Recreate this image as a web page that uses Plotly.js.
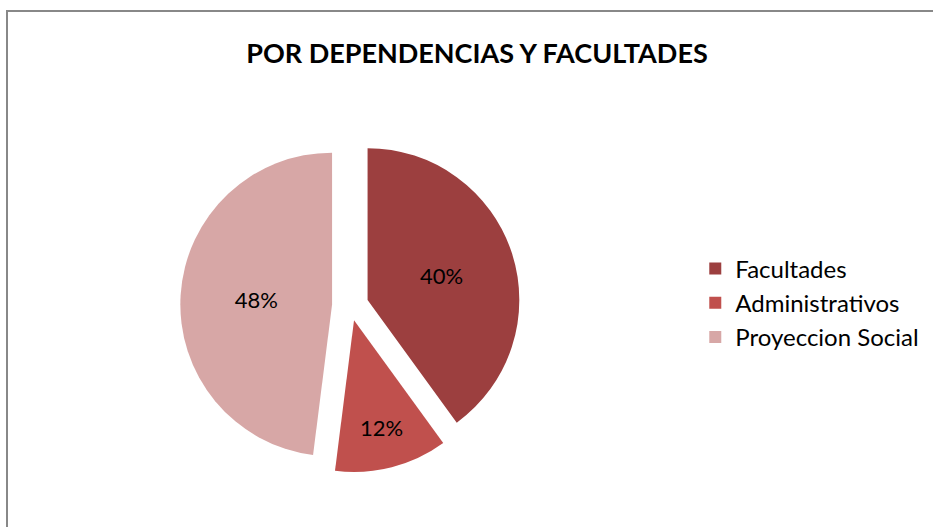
<!DOCTYPE html>
<html>
<head>
<meta charset="utf-8">
<script src="https://cdn.plot.ly/plotly-3.0.1.min.js"></script>
<style>
  html, body { margin: 0; padding: 0; background: #fff; width: 933px; height: 527px; overflow: hidden; }
  #frame { position: absolute; left: 6px; top: 10px; width: 927px; height: 517px;
           border-left: 2px solid #888; border-top: 2px solid #888; box-sizing: border-box; }
  #chart { position: absolute; left: 0; top: 0; width: 925px; height: 515px; }
</style>
</head>
<body>
<div id="frame"><div id="chart"></div></div>
<script>
const categories = ["Facultades", "Administrativos", "Proyeccion Social"];
const values = [40, 12, 48];
const colors = ["#9c3f3f", "#c0504d", "#d7a7a6"];
const chartTitle = "POR DEPENDENCIAS Y FACULTADES";

const trace = {
  type: "pie",
  labels: categories,
  values: values,
  sort: false,
  direction: "clockwise",
  rotation: 0,
  pull: [0.12, 0.1, 0.12],
  marker: { colors: colors, line: { width: 0 } },
  textinfo: "percent",
  texttemplate: "%{percent:.0%}",
  textposition: "inside",
  insidetextorientation: "horizontal",
  textfont: { family: "Lato, 'Open Sans', sans-serif", size: 22, color: "#000" },
  domain: { x: [0.07, 0.67], y: [0.1, 0.76] },
  hoverinfo: "label+percent"
};

const layout = {
  width: 925,
  height: 515,
  margin: { l: 0, r: 0, t: 0, b: 0 },
  paper_bgcolor: "#fff",
  title: {
    text: "<b>" + chartTitle + "</b>",
    font: { family: "Lato, 'Open Sans', sans-serif", size: 27, color: "#000" },
    x: 0.507, xanchor: "center", y: 0.92, yanchor: "middle"
  },
  showlegend: true,
  legend: {
    x: 0.743, xanchor: "left", y: 0.435, yanchor: "middle",
    font: { family: "Lato, 'Open Sans', sans-serif", size: 24, color: "#000" },
    itemwidth: 30
  }
};

Plotly.newPlot("chart", [trace], layout, { displayModeBar: false, staticPlot: true });
</script>
</body>
</html>
